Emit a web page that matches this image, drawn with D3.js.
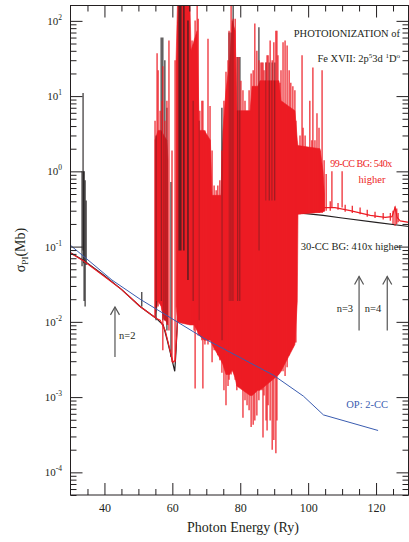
<!DOCTYPE html>
<html>
<head>
<meta charset="utf-8">
<script src="https://d3js.org/d3.v7.min.js"></script>
<style>
  body { margin: 0; background: #fff; }
  svg text { font-family: 'Liberation Serif', 'Times New Roman', serif; fill: #231f20; }
</style>
</head>
<body>
<svg id="chart" width="409" height="542"></svg>
<script>
'use strict';

// axis ticks
var xMajor = [40, 60, 80, 100, 120];
var xMinor = [35, 45, 50, 55, 65, 70, 75, 85, 90, 95, 105, 110, 115, 125];
var yExponents = [-4, -3, -2, -1, 0, 1, 2];

// OP: 2-CC cross section [E (Ry), sigma (Mb)]
var opCurve = [[30, 0.104], [42.2, 0.036], [50.5, 0.020], [70, 0.0058], [89.8, 0.00195],
	[98.6, 0.00103], [104.5, 0.00058], [120.6, 0.00036]];

// continuum parts of the two calculations, null = break
var redLine = [[30, 0.082], [34, 0.064], [40, 0.040], [45, 0.027], [50.5, 0.016], [54.5, 0.0118],
	[55.5, 0.011], [56.4, 0.0105], [57.9, 0.0077], [59.3, 0.0042], [60.2, 0.0029], [60.8, 0.0031],
	[61.4, 0.0077], [61.7, 0.019], null,
	[104.4, 0.33], [107.9, 0.33], [112.4, 0.30], [118.3, 0.26],
	[122.7, 0.245], [124.7, 0.25], [125.6, 0.33], [126.2, 0.245], [127.1, 0.22], [129.7, 0.21]];

var blackLine = [[30, 0.083], [34, 0.065], [40, 0.041], [45, 0.027], [50.5, 0.016], [54.5, 0.0118],
	[55.2, 0.0112], [56.4, 0.0099], [57.3, 0.0091], [58.5, 0.0057], [59.6, 0.0036], [60.7, 0.0022],
	[61.1, 0.0042], [61.5, 0.011], [61.7, 0.026], null,
	[97.2, 0.28], [104.4, 0.26], [110, 0.24], [120, 0.21], [129.7, 0.185]];

// solid part of the 99-CC resonance region [E, low, high]
var redBand = [[54.9, 0.0114, 2.6], [55.8, 0.019, 3.5], [56.7, 0.016, 3.5], [57.5, 0.0108, 3.0],
	[58.4, 0.0099, 2.6], [58.7, 0.0091, 1.4], null,
	[61.1, 0.016, 30], [61.5, 0.0099, 160], [65.2, 0.0091, 160], [65.5, 0.0091, 40], [66.4, 0.0091, 55],
	[67.3, 0.0077, 74], [67.9, 0.0066, 3.5], [69.4, 0.0057, 3.5], [71.2, 0.0057, 2.6],
	[71.7, 0.005, 0.48], [74.3, 0.0031, 0.48], [74.9, 0.0027, 3.5], [75.8, 0.002, 12],
	[76.9, 0.002, 30], [77.6, 0.0023, 101], [78.5, 0.0018, 74], [79.0, 0.0014, 6.4],
	[82.9, 0.00105, 6.4], [83.5, 0.00105, 13.5], [85.2, 0.00123, 13.5], [85.8, 0.00123, 16],
	[91.4, 0.002, 16], [92.0, 0.0022, 8.7], [96.1, 0.005, 6.4], [96.8, 0.019, 2.6],
	[97.0, 0.27, 2.2], [103.5, 0.285, 2.0], [104.4, 0.29, 1.0], [104.8, 0.30, 0.5]];

// single resonance lines [E, low, high]
var redSpikes = [[54.9, 0.0114, 4.7], [55.5, 0.019, 37], [55.8, 0.016, 22], [56.4, 0.019, 6.4],
	[57.0, 0.014, 8.7], [57.2, 0.0042, 25], [57.8, 0.0105, 4.7], [58.4, 0.0091, 8.7],
	[59.0, 0.0077, 55], [59.9, 0.0029, 1.9], [60.8, 0.0029, 30],
	[65.8, 0.0091, 55], [66.4, 0.0077, 30], [66.7, 0.0013, 101], [67.3, 0.0077, 160],
	[67.6, 0.0066, 107], [68.1, 0.0066, 6.4], [68.7, 0.0057, 8.7], [69.0, 0.0013, 8.7],
	[69.6, 0.005, 3.5], [70.5, 0.005, 58], [71.1, 0.0057, 7.4], [71.7, 0.0029, 1.9],
	[72.3, 0.0042, 0.65], [72.9, 0.005, 0.56], [73.4, 0.0036, 0.65], [74.0, 0.0031, 0.76],
	[74.6, 0.0021, 1.9], [75.2, 0.00123, 8.7], [75.8, 0.00078, 21], [76.4, 0.0014, 30],
	[76.7, 0.0017, 74], [77.3, 0.002, 160], [77.9, 0.0022, 107], [78.5, 0.0017, 107],
	[79.0, 0.00123, 33], [79.6, 0.0014, 33], [80.2, 0.0017, 16], [80.8, 0.00053, 12],
	[81.4, 0.00091, 8.7], [82.0, 0.00078, 6.4], [82.6, 0.00067, 12], [83.2, 0.0004, 20],
	[83.8, 0.00043, 22], [84.3, 0.00049, 92], [84.9, 0.00057, 40], [85.5, 0.00091, 30],
	[86.1, 0.0021, 28], [86.4, 0.00123, 28], [86.7, 0.00029, 28], [87.0, 0.00105, 22],
	[87.6, 0.00049, 28], [87.9, 0.00036, 35], [88.2, 0.00078, 35], [88.8, 0.00049, 55],
	[89.4, 0.0002, 30], [89.9, 0.00027, 52], [90.5, 0.00018, 74], [90.8, 0.00049, 74],
	[91.1, 0.002, 35], [91.7, 0.0023, 15], [92.0, 0.0022, 22], [92.6, 0.0022, 52],
	[93.2, 0.0019, 55], [93.8, 0.0025, 47], [94.4, 0.0036, 22], [94.9, 0.0042, 15],
	[95.5, 0.0046, 13.5], [96.1, 0.0053, 12], [96.4, 0.0053, 4.7],
	[97.0, 0.27, 1.9], [97.6, 0.27, 3.0], [98.2, 0.28, 35], [98.5, 0.28, 3.8], [99.1, 0.28, 3.0],
	[99.7, 0.285, 1.9], [100.5, 0.285, 8.7], [101.1, 0.285, 2.6], [101.4, 0.285, 24],
	[102.0, 0.285, 2.6], [102.6, 0.285, 5.9], [103.2, 0.28, 3.8], [103.5, 0.285, 1.9],
	[104.1, 0.28, 22], [104.7, 0.29, 1.4], [105.3, 0.30, 0.92], [107.0, 0.33, 1.0], [110.0, 0.33, 1.0],
	[106.5, 0.30, 0.40], [108.8, 0.31, 0.38], [110.9, 0.29, 0.36], [113.0, 0.28, 0.35],
	[115.3, 0.27, 0.33], [117.4, 0.25, 0.31], [119.7, 0.24, 0.29], [122.1, 0.23, 0.28],
	[124.2, 0.22, 0.28], [125.0, 0.20, 0.30], [125.6, 0.19, 0.34], [126.1, 0.20, 0.32],
	[126.5, 0.21, 0.28]];

var blackSpikes = [[33.4, 0.055, 1.0], [33.7, 0.089, 11], [33.9, 0.06, 1.0], [34.0, 0.019, 1.0],
	[34.3, 0.016, 0.76], [34.6, 0.057, 0.41], [51.0, 0.016, 0.025],
	[55.2, 0.0105, 3.0], [56.7, 0.019, 60], [57.2, 0.0105, 60], [57.8, 0.0105, 30],
	[58.4, 0.0077, 7.0], [59.6, 0.0034, 0.72], [62.0, 0.089, 160], [62.5, 0.089, 160],
	[63.4, 0.089, 160], [64.6, 0.036, 101], [66.1, 0.019, 8.7], [67.9, 0.0105, 4.7],
	[74.6, 0.0057, 7.0], [76.7, 0.019, 70], [77.3, 0.019, 70], [77.9, 0.019, 160],
	[79.3, 0.019, 33], [79.9, 0.019, 33], [85.5, 0.089, 82], [87.6, 0.41, 28],
	[88.5, 0.41, 28], [89.4, 0.41, 28], [90.2, 0.41, 28]];

// threshold arrows [label, E, sigma bottom, sigma tip]
var thresholds = [['n=2', 43.1, 0.0034, 0.0158], ['n=3', 115.0, 0.0077, 0.040], ['n=4', 123.3, 0.0077, 0.040]];

(function () {
	var RED = '#ed1c24', BLACK = '#231f20', BLUE = '#3a5cb0';

	var svg = d3.select('#chart');
	var pLeft = 70.5, pRight = 408.5, pTop = 5.5, pBottom = 495;

	var x = d3.scaleLinear().domain([30, 130]).range([pLeft, 410]);
	var y = d3.scaleLog().domain([5e-5, 160]).range([pBottom, pTop]);

	svg.append('defs').append('clipPath').attr('id', 'plot-clip')
		.append('rect').attr('x', pLeft).attr('y', pTop).attr('width', pRight - pLeft).attr('height', pBottom - pTop);

	var plot = svg.append('g').attr('clip-path', 'url(#plot-clip)');

	var line = d3.line().defined(function (d) { return d !== null; })
		.x(function (d) { return x(d[0]); }).y(function (d) { return y(d[1]); });
	var band = d3.area().defined(function (d) { return d !== null; })
		.x(function (d) { return x(d[0]); })
		.y0(function (d) { return y(d[1]); }).y1(function (d) { return y(d[2]); });

	function spikes(g, data, color, width) {
		g.selectAll(null).data(data).enter().append('line')
			.attr('x1', function (d) { return x(d[0]); }).attr('x2', function (d) { return x(d[0]); })
			.attr('y1', function (d) { return y(d[1]); }).attr('y2', function (d) { return y(d[2]); })
			.attr('stroke', color).attr('stroke-width', width);
	}

	plot.append('path').datum(blackLine).attr('d', line).attr('fill', 'none').attr('stroke', BLACK).attr('stroke-width', 1.2);
	plot.append('path').datum(redBand).attr('d', band).attr('fill', RED).attr('stroke', RED).attr('stroke-width', 0.6);
	spikes(plot.append('g'), blackSpikes, BLACK, 1.1);
	plot.append('path').datum(redLine).attr('d', line).attr('fill', 'none').attr('stroke', RED).attr('stroke-width', 1.2);
	spikes(plot.append('g'), redSpikes, RED, 1.2);
	plot.append('path').datum(opCurve).attr('d', line).attr('fill', 'none').attr('stroke', BLUE).attr('stroke-width', 1);

	// frame and ticks
	var yMinor = [];
	for (var k = -5; k <= 2; k++) {
		for (var m = 2; m <= 9; m++) {
			var v = m * Math.pow(10, k);
			if (v >= 5e-5 && v <= 160) { yMinor.push(v); }
		}
	}
	var yMajor = yExponents.map(function (e) { return Math.pow(10, e); });

	function addAxis(axis, tx, ty) {
		var g = svg.append('g').attr('transform', 'translate(' + tx + ',' + ty + ')').call(axis);
		g.select('.domain').remove();
		g.selectAll('line').attr('stroke', BLACK);
		return g;
	}

	var xAx = addAxis(d3.axisBottom(x).tickValues(xMajor).tickSize(-12).tickPadding(8), 0, pBottom);
	xAx.selectAll('text').attr('font-size', 12).attr('fill', BLACK).attr('font-family', 'Liberation Serif');
	addAxis(d3.axisBottom(x).tickValues(xMinor).tickSize(-6).tickFormat(''), 0, pBottom);
	addAxis(d3.axisTop(x).tickValues(xMajor).tickSize(-12).tickFormat(''), 0, pTop);
	addAxis(d3.axisTop(x).tickValues(xMinor).tickSize(-6).tickFormat(''), 0, pTop);
	addAxis(d3.axisLeft(y).tickValues(yMajor).tickSize(-12).tickFormat(''), pLeft, 0);
	addAxis(d3.axisLeft(y).tickValues(yMinor).tickSize(-6).tickFormat(''), pLeft, 0);
	addAxis(d3.axisRight(y).tickValues(yMajor).tickSize(-12).tickFormat(''), pRight, 0);
	addAxis(d3.axisRight(y).tickValues(yMinor).tickSize(-6).tickFormat(''), pRight, 0);

	svg.append('rect').attr('x', pLeft).attr('y', pTop).attr('width', pRight - pLeft).attr('height', pBottom - pTop)
		.attr('fill', 'none').attr('stroke', BLACK).attr('stroke-width', 1);

	// y tick labels 10^n
	var yLab = svg.append('g').selectAll(null).data(yExponents).enter().append('text')
		.attr('x', 62).attr('y', function (d) { return y(Math.pow(10, d)) + 4; })
		.attr('text-anchor', 'end').attr('font-size', 11);
	yLab.append('tspan').text('10');
	yLab.append('tspan').attr('dy', -5).attr('font-size', 7.5).text(function (d) { return String(d); });

	// axis titles
	svg.append('text').attr('x', 243).attr('y', 532).attr('text-anchor', 'middle').attr('font-size', 14)
		.text('Photon Energy (Ry)');
	var yt = svg.append('text').attr('transform', 'translate(25,250) rotate(-90)')
		.attr('text-anchor', 'middle').attr('font-size', 14);
	yt.append('tspan').text('σ');
	yt.append('tspan').attr('dy', 3).attr('font-size', 9).text('PI');
	yt.append('tspan').attr('dy', -3).text('(Mb)');

	// threshold arrows
	var arr = svg.append('g').selectAll(null).data(thresholds).enter().append('g');
	arr.append('line')
		.attr('x1', function (d) { return x(d[1]); }).attr('x2', function (d) { return x(d[1]); })
		.attr('y1', function (d) { return y(d[2]); }).attr('y2', function (d) { return y(d[3]); })
		.attr('stroke', '#555').attr('stroke-width', 1.2);
	arr.append('path')
		.attr('d', function (d) {
			var px = x(d[1]), py = y(d[3]);
			return 'M' + (px - 4.5) + ',' + (py + 8) + 'L' + px + ',' + py + 'L' + (px + 4.5) + ',' + (py + 8);
		})
		.attr('fill', 'none').attr('stroke', '#555').attr('stroke-width', 1.2);
	arr.append('text')
		.attr('x', function (d, i) { return i === 0 ? x(d[1]) + 4 : x(d[1]) - 6; })
		.attr('y', function (d) { return y(d[2]) - 18; })
		.attr('text-anchor', function (d, i) { return i === 0 ? 'start' : 'end'; })
		.attr('font-size', 10.5).text(function (d) { return d[0]; });

	// annotations
	svg.append('text').attr('x', 400).attr('y', 37).attr('text-anchor', 'end').attr('font-size', 10.5)
		.text('PHOTOIONIZATION of');
	var fe = svg.append('text').attr('x', 400).attr('y', 62).attr('text-anchor', 'end').attr('font-size', 10.5);
	fe.append('tspan').text('Fe XVII: 2p');
	fe.append('tspan').attr('dy', -4).attr('font-size', 7).text('5');
	fe.append('tspan').attr('dy', 4).text('3d ');
	fe.append('tspan').attr('dy', -4).attr('font-size', 7).text('1');
	fe.append('tspan').attr('dy', 4).text('D');
	fe.append('tspan').attr('dy', -4).attr('font-size', 7).text('o');

	svg.append('text').attr('x', 361).attr('y', 167).attr('text-anchor', 'middle').attr('font-size', 10)
		.attr('letter-spacing', -0.5).style('fill', RED).text('99-CC BG: 540x');
	svg.append('text').attr('x', 372).attr('y', 183).attr('text-anchor', 'middle').attr('font-size', 10.5)
		.style('fill', RED).text('higher');
	svg.append('text').attr('x', 402).attr('y', 250).attr('text-anchor', 'end').attr('font-size', 10.5)
		.text('30-CC BG: 410x higher');
	svg.append('text').attr('x', 388).attr('y', 408).attr('text-anchor', 'end').attr('font-size', 10.5)
		.style('fill', BLUE).text('OP: 2-CC');
})();
</script>
</body>
</html>
